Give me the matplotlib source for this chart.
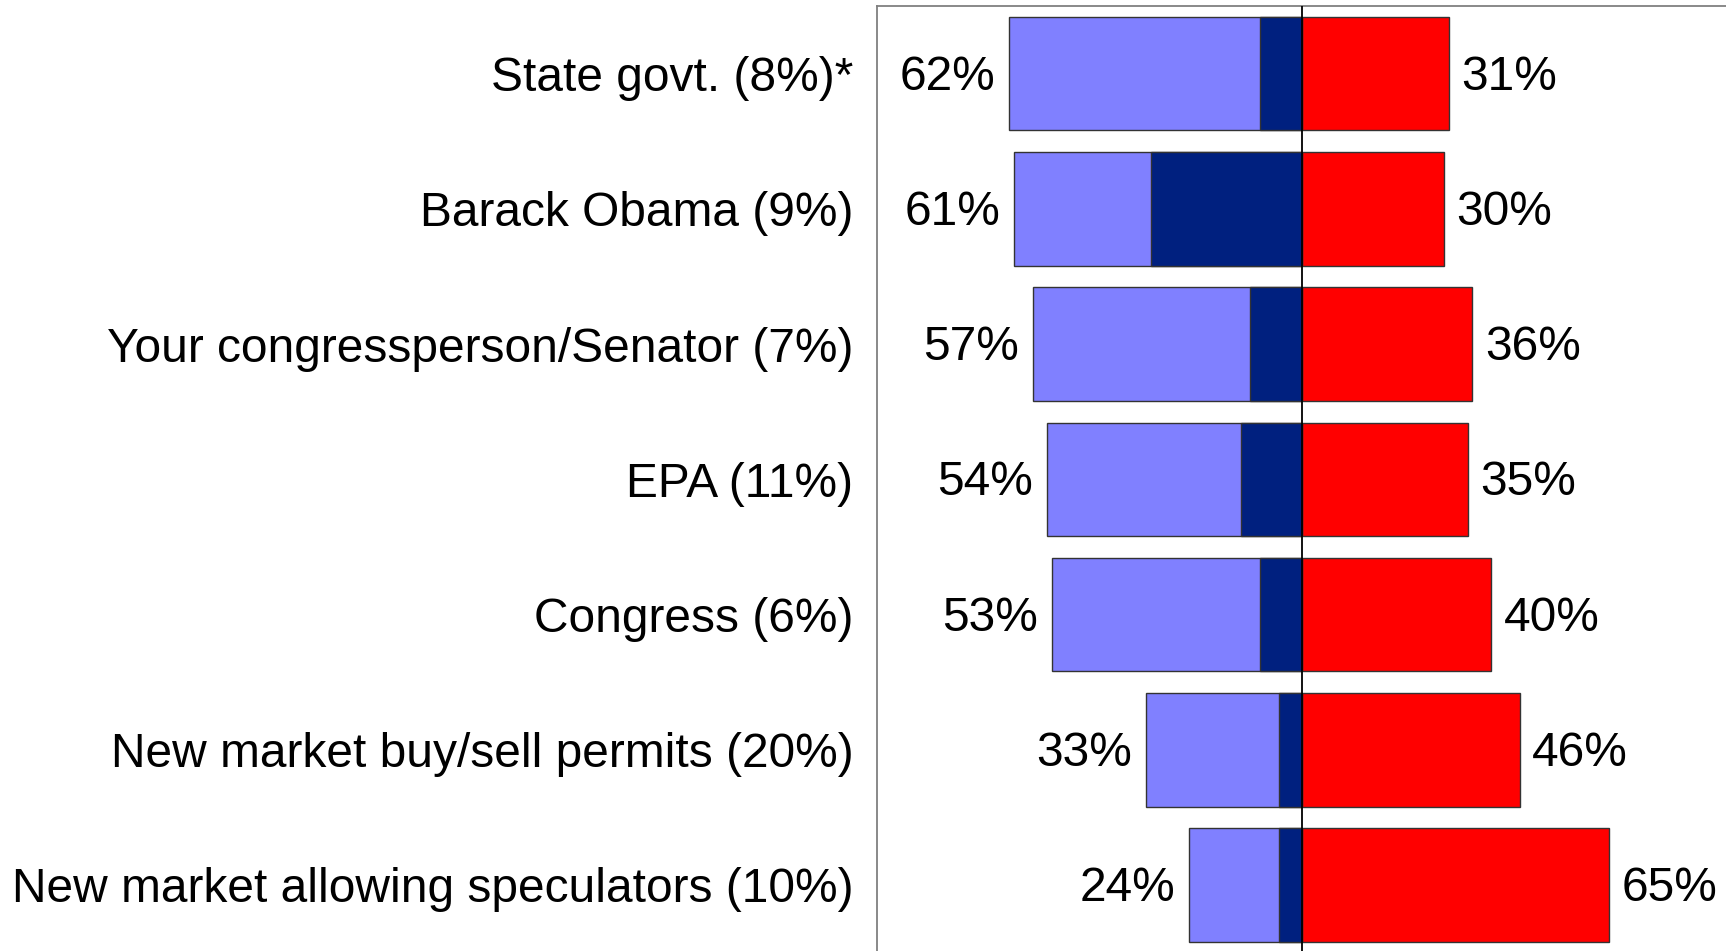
import matplotlib
matplotlib.use("Agg")
import matplotlib.pyplot as plt
from matplotlib import font_manager
import numpy as np

fam = 'Liberation Sans'
for f in font_manager.findSystemFonts():
    if f.endswith('LiberationSans-Regular.ttf'):
        font_manager.fontManager.addfont(f)
        fam = font_manager.FontProperties(fname=f).get_name()
        break
plt.rcParams['font.family'] = [fam, 'DejaVu Sans']

categories = [
    "State govt. (8%)*",
    "Barack Obama (9%)",
    "Your congressperson/Senator (7%)",
    "EPA (11%)",
    "Congress (6%)",
    "New market buy/sell permits (20%)",
    "New market allowing speculators (10%)",
]
left_total = [62, 61, 57, 54, 53, 33, 24]
left_strong = [9, 32, 11, 13, 9, 5, 5]
right_total = [31, 30, 36, 35, 40, 46, 65]

W, H = 1726, 951
fig = plt.figure(figsize=(W / 100, H / 100), dpi=100)
ax_left = 877 / W
ax_right = 1727.4 / W
ax_top = 1 - 6 / H
ax_bottom = 1 - 952.6 / H
ax = fig.add_axes([ax_left, ax_bottom, ax_right - ax_left, ax_top - ax_bottom])

y = np.arange(len(categories))
bh = 0.84
edge = '#333333'
ax.barh(y, [-v for v in left_total], height=bh, color='#8080FF', edgecolor=edge, linewidth=1.0, zorder=2)
ax.barh(y, [-v for v in left_strong], height=bh, color='#00207F', edgecolor=edge, linewidth=1.0, zorder=3)
ax.barh(y, right_total, height=bh, color='#FF0000', edgecolor=edge, linewidth=1.0, zorder=2)

ax.axvline(0, color='black', linewidth=1.3, zorder=4)

fs = 34.5
for yi, lv, rv in zip(y, left_total, right_total):
    ax.annotate(f"{lv}%", xy=(-lv, yi), xytext=(-10, -2.5), textcoords='offset points',
                ha='right', va='center', fontsize=fs, color='black')
    ax.annotate(f"{rv}%", xy=(rv, yi), xytext=(9, -2.5), textcoords='offset points',
                ha='left', va='center', fontsize=fs, color='black')

ax.set_xlim(-90, 90)
ax.set_ylim(len(categories) - 0.5, -0.5)
ax.set_yticks(y)
ax.set_yticklabels(categories, fontsize=fs)
ax.tick_params(axis='y', length=0, pad=17)
ax.set_xticks([])
for s in ['right', 'bottom']:
    ax.spines[s].set_visible(False)
for s in ['left', 'top']:
    ax.spines[s].set_color('#808080')
    ax.spines[s].set_linewidth(1.3)

fig.savefig("out.png", dpi=100)
